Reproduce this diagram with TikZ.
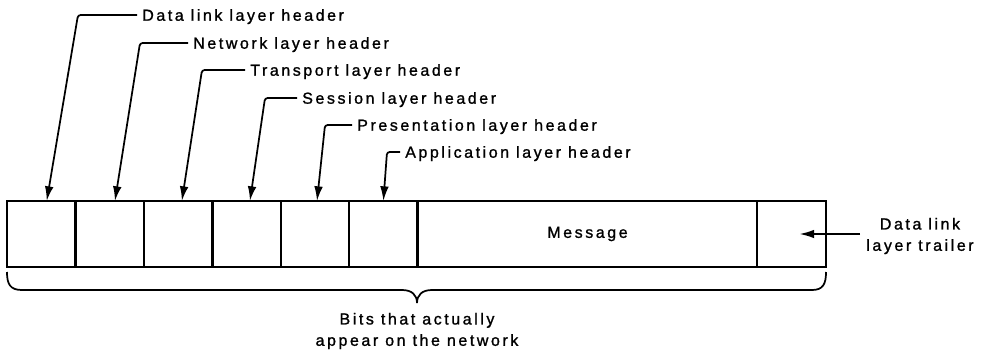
\documentclass[tikz,border=0pt]{standalone}
\usepackage{fontspec}
\setmainfont{Liberation Sans}[LetterSpace=16,FakeBold=1.2]
\usetikzlibrary{arrows.meta}
\begin{document}
\begin{tikzpicture}[x=0.75pt,y=-0.75pt,
  cell/.style={draw, line width=2.1pt, anchor=north west, minimum height=49.5pt, outer sep=0pt, inner sep=0pt},
  lab/.style={anchor=west, inner xsep=3.75pt, inner ysep=0pt, text height=8.6pt, text depth=0pt, font=\fontsize{12}{15.75}\selectfont},
  txt/.style={font=\fontsize{12}{16}\selectfont, align=center},
  arr/.style={line width=1.3pt, rounded corners=2pt, -{Latex[length=11pt,width=6.5pt]}},
  brace/.style={line width=1.3pt}]
\useasboundingbox (0,0) rectangle (984,354);
% cells
\node[cell, minimum width=51.6pt] (c1) at (7,201) {};
\node[cell, minimum width=51pt] (c2) at (76,201) {};
\node[cell, minimum width=51.6pt] (c3) at (144,201) {};
\node[cell, minimum width=51pt] (c4) at (213,201) {};
\node[cell, minimum width=51pt] (c5) at (281,201) {};
\node[cell, minimum width=51.6pt] (c6) at (349,201) {};
\node[cell, minimum width=254.25pt, txt] (c7) at (418,201) {Message};
\node[cell, minimum width=51.75pt] (c8) at (757,201) {};
% header labels
\node[lab] (l1) at (137,15) {Data link layer header};
\node[lab] (l2) at (188,43) {Network layer header};
\node[lab] (l3) at (245,70) {Transport layer header};
\node[lab] (l4) at (297,98) {Session layer header};
\node[lab] (l5) at (352,125) {Presentation layer header};
\node[lab] (l6) at (400,152) {Application layer header};
\coordinate (k1) at (78,15);
\coordinate (k2) at (140,43);
\coordinate (k3) at (202,70);
\coordinate (k4) at (265,98);
\coordinate (k5) at (325,125);
\coordinate (k6) at (387,152);
\draw[arr] (l1.west) -- (l1.west -| k1) -- ([xshift=4pt]c1.north);
\draw[arr] (l2.west) -- (l2.west -| k2) -- ([xshift=3.7pt]c2.north);
\draw[arr] (l3.west) -- (l3.west -| k3) -- ([xshift=2.6pt]c3.north);
\draw[arr] (l4.west) -- (l4.west -| k4) -- ([xshift=2.2pt]c4.north);
\draw[arr] (l5.west) -- (l5.west -| k5) -- ([xshift=1.5pt]c5.north);
\draw[arr] (l6.west) -- (l6.west -| k6) -- (c6.north);
% trailer label
\node[txt, inner xsep=4.5pt] (tr) at (920,236) {Data link\\layer trailer};
\draw[arr] (tr.west |- c8.center) -- ([xshift=6pt]c8.center);
% brace
\draw[brace] (7,272) .. controls (7,284) and (10,290) .. (22,290) -- (402,290)
  .. controls (412,290) and (417,295) .. (417,303)
  .. controls (417,295) and (422,290) .. (432,290) -- (812,290)
  .. controls (823,290) and (826,284) .. (826,272);
\node[txt] (bits) at (417,331) {Bits that actually\\appear on the network};
\end{tikzpicture}
\end{document}
